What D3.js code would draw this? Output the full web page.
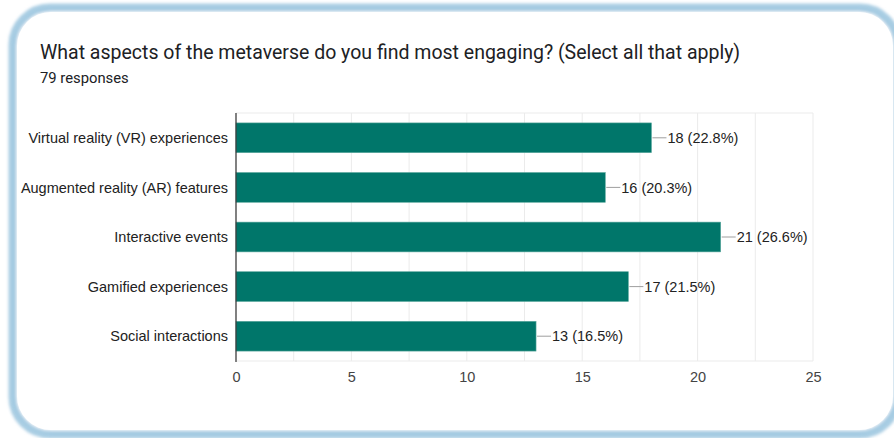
<!DOCTYPE html>
<html>
<head>
<meta charset="utf-8">
<script src="https://cdn.jsdelivr.net/npm/d3@7/dist/d3.min.js"></script>
<style>
  html, body { margin: 0; padding: 0; background: #ffffff; }
  svg { display: block; }
</style>
</head>
<body>
<svg id="chart" width="894" height="438"></svg>
<script>
// Survey question and response data
const title = "What aspects of the metaverse do you find most engaging? (Select all that apply)";
const subtitle = "79 responses";
const categories = [
  "Virtual reality (VR) experiences",
  "Augmented reality (AR) features",
  "Interactive events",
  "Gamified experiences",
  "Social interactions"
];
const counts = [18, 16, 21, 17, 13];
const percents = ["22.8%", "20.3%", "26.6%", "21.5%", "16.5%"];
const tickValues = [0, 5, 10, 15, 20, 25];
const gridValues = [0, 2.5, 5, 7.5, 10, 12.5, 15, 17.5, 20, 22.5, 25];

const svg = d3.select("#chart");

// Card frame with soft blue edge
const defs = svg.append("defs");
const blur = defs.append("filter").attr("id", "soft")
  .attr("x", "-5%").attr("y", "-5%").attr("width", "110%").attr("height", "110%");
blur.append("feGaussianBlur").attr("stdDeviation", 1.6);

svg.append("rect")
  .attr("x", 12).attr("y", 7).attr("width", 886).attr("height", 428)
  .attr("rx", 38).attr("ry", 38)
  .attr("fill", "none")
  .attr("stroke", "#a9cde3").attr("stroke-width", 7)
  .attr("filter", "url(#soft)");
svg.append("rect")
  .attr("x", 15).attr("y", 10).attr("width", 880).attr("height", 422)
  .attr("rx", 36).attr("ry", 36)
  .attr("fill", "#ffffff")
  .attr("stroke", "#8fbfdc").attr("stroke-width", 2.5)
  .attr("filter", "url(#soft)");
svg.append("rect")
  .attr("x", 17).attr("y", 12).attr("width", 876).attr("height", 418)
  .attr("rx", 34).attr("ry", 34)
  .attr("fill", "#ffffff");

// Heading
svg.append("text")
  .attr("x", 40).attr("y", 59)
  .attr("font-family", "Roboto, Arial, sans-serif")
  .attr("font-size", 19.5)
  .attr("fill", "#202124")
  .text(title);
svg.append("text")
  .attr("x", 40).attr("y", 83)
  .attr("font-family", "Roboto, Arial, sans-serif")
  .attr("font-size", 14.8)
  .attr("fill", "#202124")
  .text(subtitle);

// Plot area
const plot = { left: 236, right: 813, top: 113, bottom: 361 };

const x = d3.scaleLinear().domain([0, 25]).range([plot.left, plot.right]);
const y = d3.scaleBand().domain(categories)
  .range([plot.top, plot.bottom])
  .paddingInner(0.4).paddingOuter(0.2);

const labelFont = "Arial, 'Liberation Sans', sans-serif";
const labelSize = 14.5;

// Gridlines
svg.append("g").selectAll("line").data(gridValues).join("line")
  .attr("x1", d => x(d)).attr("x2", d => x(d))
  .attr("y1", plot.top).attr("y2", plot.bottom)
  .attr("stroke", "#ebebeb").attr("stroke-width", 1);
svg.append("line")
  .attr("x1", plot.left).attr("x2", plot.right)
  .attr("y1", plot.top).attr("y2", plot.top)
  .attr("stroke", "#ebebeb");
svg.append("line")
  .attr("x1", plot.left).attr("x2", plot.right)
  .attr("y1", plot.bottom).attr("y2", plot.bottom)
  .attr("stroke", "#ebebeb");

// Bars
const rows = categories.map((c, i) => ({ c, v: counts[i], p: percents[i] }));
svg.append("g").selectAll("rect").data(rows).join("rect")
  .attr("x", x(0))
  .attr("y", d => y(d.c))
  .attr("width", d => x(d.v) - x(0))
  .attr("height", y.bandwidth())
  .attr("fill", "#00766a")
  .attr("stroke", "#5aa79d").attr("stroke-width", 0.6);

// Value annotations with leader lines
const ann = svg.append("g");
ann.selectAll("line").data(rows).join("line")
  .attr("x1", d => x(d.v) + 1).attr("x2", d => x(d.v) + 15)
  .attr("y1", d => y(d.c) + y.bandwidth() / 2)
  .attr("y2", d => y(d.c) + y.bandwidth() / 2)
  .attr("stroke", "#9e9e9e").attr("stroke-width", 1);
ann.selectAll("text").data(rows).join("text")
  .attr("x", d => x(d.v) + 16)
  .attr("y", d => y(d.c) + y.bandwidth() / 2)
  .attr("dy", "0.36em")
  .attr("font-family", labelFont)
  .attr("font-size", labelSize)
  .attr("fill", "#222222")
  .text(d => `${d.v} (${d.p})`);

// Category axis
const yAxis = svg.append("g")
  .attr("transform", `translate(${plot.left},0)`)
  .call(d3.axisLeft(y).tickSize(0).tickPadding(8));
yAxis.select(".domain").remove();
yAxis.selectAll("text")
  .attr("font-family", labelFont)
  .attr("font-size", labelSize)
  .attr("fill", "#222222")
  .attr("dy", "0.36em");
svg.append("line")
  .attr("x1", plot.left).attr("x2", plot.left)
  .attr("y1", plot.top).attr("y2", plot.bottom + 1)
  .attr("stroke", "#333333").attr("stroke-width", 1.2);

// Value axis
const xAxis = svg.append("g")
  .attr("transform", `translate(0,${plot.bottom})`)
  .call(d3.axisBottom(x).tickValues(tickValues).tickSize(0).tickPadding(11).tickFormat(d3.format("d")));
xAxis.select(".domain").remove();
xAxis.selectAll("text")
  .attr("font-family", labelFont)
  .attr("font-size", labelSize)
  .attr("fill", "#444444");
</script>
</body>
</html>
